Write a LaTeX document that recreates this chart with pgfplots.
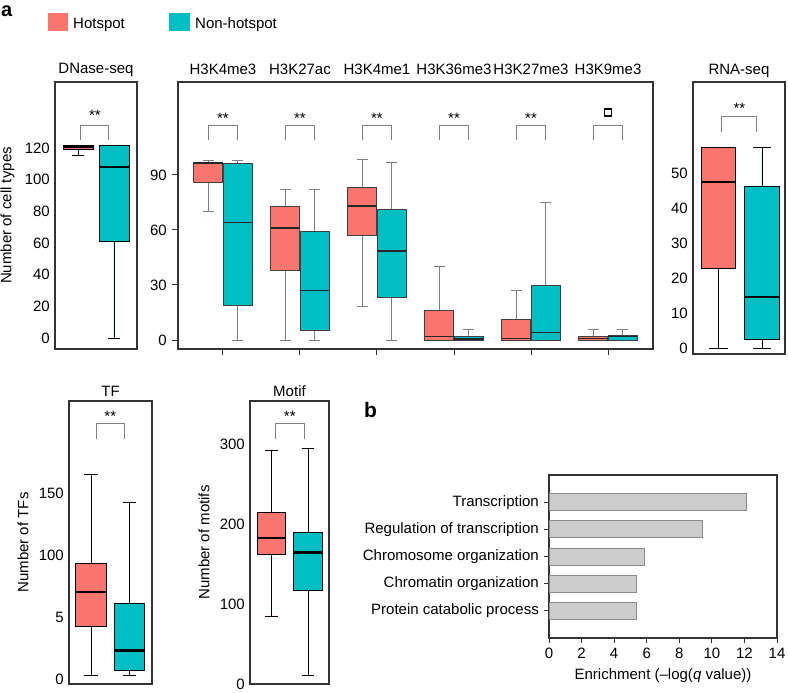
\documentclass[border=0pt]{standalone}
\usepackage{fontspec}
\setmainfont{Liberation Sans}
\usepackage{pgfplots}
\pgfplotsset{compat=1.18}
\usepgfplotslibrary{statistics}

\definecolor{hot}{HTML}{F8766D}
\definecolor{non}{HTML}{00BFC4}
\definecolor{frame}{HTML}{333333}
\definecolor{brk}{HTML}{808080}
\definecolor{bargray}{HTML}{CCCCCC}

% one box from prepared numbers: style, position, box extend, whisker extend, lw, q1, median, q3, uw
\newcommand{\bx}[9]{\addplot[#1, boxplot prepared={draw position=#2, box extend=#3, whisker extend=#4,
  lower whisker=#5, lower quartile=#6, median=#7, upper quartile=#8, upper whisker=#9}] coordinates {};}

\pgfplotsset{
  panel/.style={
    scale only axis, anchor=south west, clip=false,
    axis line style={draw=frame, line width=1.2pt},
    xtick=\empty, ytick pos=left, major tick length=0pt,
    tick label style={font=\fontsize{15}{18}\selectfont},
    label style={font=\fontsize{15}{18}\selectfont},
    /pgf/number format/assume math mode=true,
    boxplot/draw direction=y,
    boxplot/every box/.style={draw=black, line width=0.9pt},
    boxplot/every median/.style={draw=black, line width=2.6pt},
    boxplot/every whisker/.style={draw=black, line width=0.9pt},
  },
  bracket/.style={brk, line width=1pt},
}

\begin{document}
\fontsize{15}{18}\selectfont
\begin{tikzpicture}
\path[use as bounding box] (0pt,0pt) rectangle (788pt,693pt);

% panel letters and legend
\node[anchor=base west, inner sep=0, font=\bfseries\fontsize{20}{24}\selectfont] at (1pt,676pt) {a};
\node[anchor=base west, inner sep=0, font=\bfseries\fontsize{21}{24}\selectfont] at (364pt,275pt) {b};
\fill[hot] (48pt,662pt) rectangle (68pt,680pt);
\node[anchor=base west, inner sep=0] at (73pt,664.5pt) {Hotspot};
\fill[non] (169pt,662pt) rectangle (190pt,680pt);
\node[anchor=base west, inner sep=0] at (195pt,664.5pt) {Non-hotspot};

% DNase-seq
\begin{axis}[panel, at={(55pt,344pt)}, width=82pt, height=267pt,
  xmin=0.361, xmax=2.639, ymin=-6.9, ymax=161.7,
  ytick={0,20,...,120}, ylabel={Number of cell types}]
\bx{fill=hot}{1}{0.833}{0.33}{115}{119}{120.6}{121.7}{121.7}
\bx{fill=non}{2}{0.833}{0.33}{0}{61}{108}{121.7}{121.7}
\addplot[bracket] coordinates {(1.08,125) (1.08,134.5) (1.86,134.5) (1.86,125)};
\node[anchor=base] at (axis cs:1.47,137.3) {**};
\node[anchor=base] at (rel axis cs:0.5,1) [yshift=8pt] {DNase-seq};
\end{axis}

% histone marks
\begin{axis}[panel, at={(178pt,344pt)}, width=475pt, height=267pt,
  xmin=0.416, xmax=6.584, ymin=-4.9, ymax=140.7,
  ytick={0,30,60,90}, xtick={1,...,6}, xticklabels={},
  xtick pos=bottom, ytick pos=left, tick align=outside, major tick length=6pt,
  tick style={draw=frame, line width=1pt},
  boxplot/every box/.style={draw=black!75, line width=0.9pt},
  boxplot/every median/.style={draw=black!85, line width=1.3pt},
  boxplot/every whisker/.style={draw=brk, line width=1pt}]
\bx{fill=hot}{0.81}{0.377}{0.14}{70}{86}{96.5}{97}{98}
\bx{fill=non}{1.19}{0.377}{0.14}{0}{19}{64}{96.5}{98}
\bx{fill=hot}{1.81}{0.377}{0.14}{0}{38}{61}{73}{82}
\bx{fill=non}{2.19}{0.377}{0.14}{0}{5}{27}{59}{82}
\bx{fill=hot}{2.81}{0.377}{0.14}{18}{57}{73}{83}{98.5}
\bx{fill=non}{3.19}{0.377}{0.14}{0}{23}{48.5}{71}{97}
\bx{fill=hot}{3.81}{0.377}{0.14}{0}{0}{2}{16}{40}
\bx{fill=non}{4.19}{0.377}{0.14}{0}{0}{0.5}{2}{5.5}
\bx{fill=hot}{4.81}{0.377}{0.14}{0}{0}{1}{11}{27}
\bx{fill=non}{5.19}{0.377}{0.14}{0}{0}{4}{30}{75}
\bx{fill=hot}{5.81}{0.377}{0.14}{0}{0}{1}{2}{5.5}
\bx{fill=non}{6.19}{0.377}{0.14}{0}{0}{2}{2.5}{5.5}
\foreach \i in {1,...,5} {
  \edef\tmp{\noexpand\addplot[bracket] coordinates {(\i-0.19,109) (\i-0.19,117) (\i+0.19,117) (\i+0.19,109)};}
  \tmp
  \edef\tmp{\noexpand\node[anchor=base] at (axis cs:\i,118) {**};}
  \tmp
}
\addplot[bracket] coordinates {(5.81,109) (5.81,117) (6.19,117) (6.19,109)};
\node[draw=black, line width=1.3pt, minimum size=7pt, inner sep=0] at (axis cs:6,124) {};
\foreach \lab [count=\i] in {H3K4me3,H3K27ac,H3K4me1,H3K36me3,H3K27me3,H3K9me3} {
  \edef\tmp{\noexpand\node[anchor=base] at (axis cs:\i,140.7) [yshift=7pt] {\lab};}
  \tmp
}
\end{axis}

% RNA-seq
\begin{axis}[panel, at={(693pt,339pt)}, width=92pt, height=272pt,
  xmin=0.414, xmax=2.53, ymin=-1.7, ymax=76,
  ytick={0,10,...,50}]
\bx{fill=hot}{1}{0.8}{0.42}{0}{22.6}{47.4}{57.4}{57.4}
\bx{fill=non}{2}{0.8}{0.42}{0}{2.5}{14.6}{46.3}{57.4}
\addplot[bracket] coordinates {(1.08,61.7) (1.08,66) (1.88,66) (1.88,61.7)};
\node[anchor=base] at (axis cs:1.48,66.9) {**};
\node[anchor=base] at (rel axis cs:0.5,1) [yshift=7pt] {RNA-seq};
\end{axis}

% TF
\begin{axis}[panel, at={(69pt,9pt)}, width=83pt, height=283pt,
  xmin=0.43, xmax=2.58, ymin=-4, ymax=224,
  ytick={0,50,100,150}, yticklabels={0,5,100,150}, ylabel={Number of TFs}]
\bx{fill=hot}{1}{0.78}{0.34}{2.5}{42}{70}{93.5}{165}
\bx{fill=non}{2}{0.78}{0.34}{2.5}{7}{23}{61}{142}
\addplot[bracket] coordinates {(1.13,193.5) (1.13,206) (1.88,206) (1.88,193.5)};
\node[anchor=base] at (axis cs:1.5,207.5) {**};
\node[anchor=base] at (rel axis cs:0.5,1) [yshift=4pt] {TF};
\end{axis}

% Motif
\begin{axis}[panel, at={(250pt,9pt)}, width=79pt, height=283pt,
  xmin=0.41, xmax=2.575, ymin=0, ymax=353.75,
  ytick={0,100,200,300}, ylabel={Number of motifs}]
\bx{fill=hot}{1}{0.79}{0.35}{85}{162.5}{182.5}{214}{292.5}
\bx{fill=non}{2}{0.79}{0.35}{11}{117.5}{164}{189}{294}
\addplot[bracket] coordinates {(1.1,306) (1.1,326) (1.9,326) (1.9,306)};
\node[anchor=base] at (axis cs:1.5,328.5) {**};
\node[anchor=base] at (rel axis cs:0.5,1) [yshift=4pt] {Motif};
\end{axis}

% b: GO enrichment
\begin{axis}[scale only axis, anchor=south west, at={(549pt,55pt)}, width=228pt, height=163pt,
  xmin=0, xmax=14, ymin=0, ymax=6,
  xtick={0,2,...,14}, ytick={1,...,5},
  yticklabels={Protein catabolic process, Chromatin organization, Chromosome organization,
    Regulation of transcription, Transcription},
  xtick pos=bottom, ytick pos=left, tick align=outside, major tick length=5pt,
  tick style={draw=frame, line width=0.9pt},
  axis line style={draw=frame, line width=1.2pt},
  tick label style={font=\fontsize{15}{18}\selectfont},
  label style={font=\fontsize{15}{18}\selectfont},
  /pgf/number format/assume math mode=true,
  xlabel={Enrichment (–log(\textit{q} value))}]
\addplot[xbar, bar width=17pt, fill=bargray, draw=black!45, line width=0.8pt]
  coordinates {(12.1,5) (9.4,4) (5.85,3) (5.38,2) (5.34,1)};
\end{axis}
\end{tikzpicture}
\end{document}
